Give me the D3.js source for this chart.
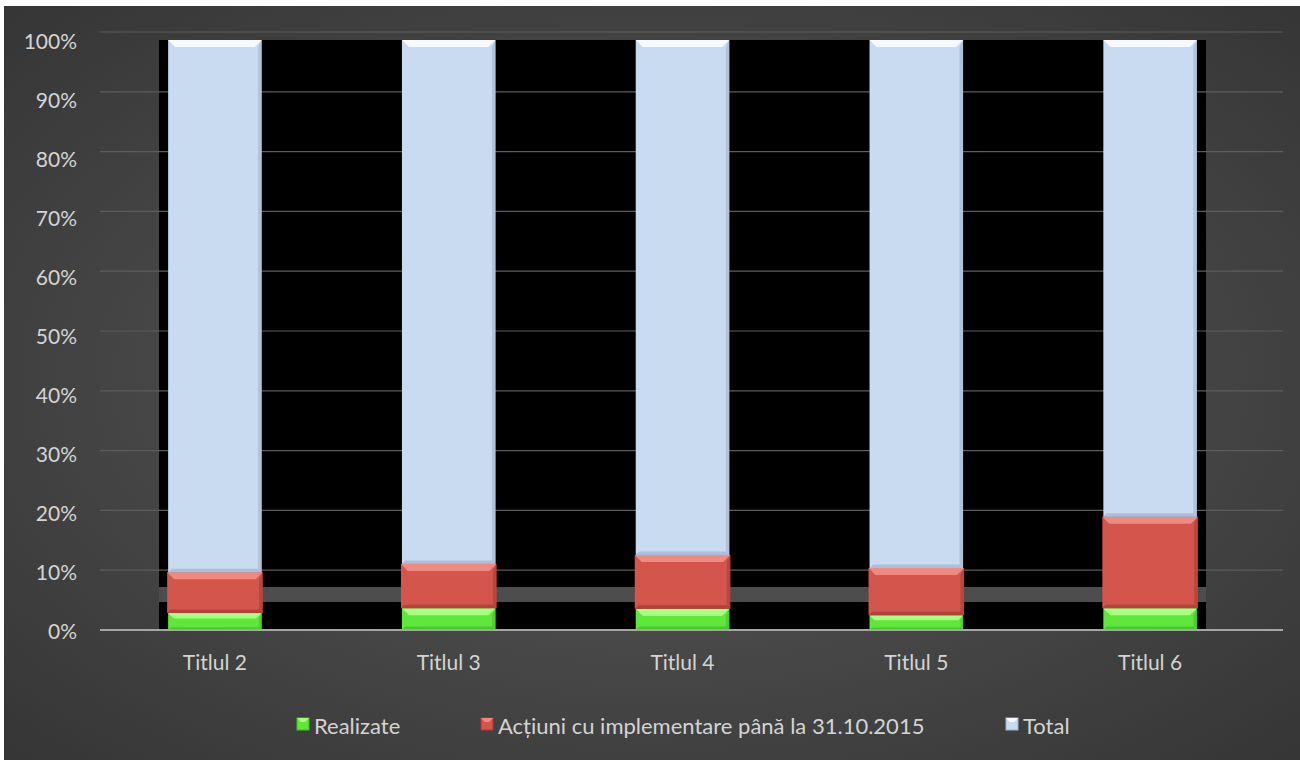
<!DOCTYPE html>
<html lang="en">
<head>
    <meta charset="UTF-8">
    <title>Titluri - stadiu</title>
    <script src="https://d3js.org/d3.v7.min.js"></script>
    <style>
        body { margin: 0; background: #fff; }
        text { font-family: Lato, "Open Sans", sans-serif; fill: #d4d4d4; }
    </style>
</head>
<body>
<script>
    var categories = ["Titlul 2", "Titlul 3", "Titlul 4", "Titlul 5", "Titlul 6"];
    // shares of each stacked bar, in percent
    var realizate = [2.9, 3.7, 3.6, 2.5, 3.7];
    var actiuni = [6.9, 7.5, 9.1, 8.0, 15.5];
    var total = [90.2, 88.8, 87.3, 89.5, 80.8];
    var seriesNames = ["Realizate", "Acțiuni cu implementare până la 31.10.2015", "Total"];
    var tickValues = [0, 10, 20, 30, 40, 50, 60, 70, 80, 90, 100];

    var width = 1300, height = 760;

    var svg = d3.select("body").append("svg")
        .attr("width", width)
        .attr("height", height);

    var defs = svg.append("defs");
    var bg = defs.append("radialGradient").attr("id", "bg")
        .attr("cx", "50%").attr("cy", "50%").attr("r", "75%");
    bg.append("stop").attr("offset", "0%").attr("stop-color", "#5a5a5a");
    bg.append("stop").attr("offset", "100%").attr("stop-color", "#333333");

    // background (white strip top and left, like the original picture)
    svg.append("rect").attr("x", 4).attr("y", 6)
        .attr("width", width - 4).attr("height", height - 6)
        .attr("fill", "url(#bg)");

    var yGrid = d3.scaleLinear().domain([0, 100]).range([630, 32]);
    var yBar = d3.scaleLinear().domain([0, 100]).range([630, 40]);
    var x = d3.scaleBand().domain(categories).range([98, 1267])
        .paddingInner(0.6).paddingOuter(0.3);

    // black plot panel with a gray gap near the bottom
    svg.append("rect").attr("x", 159).attr("y", 40).attr("width", 1047).attr("height", 547).attr("fill", "#000");
    svg.append("rect").attr("x", 159).attr("y", 602).attr("width", 1047).attr("height", 28).attr("fill", "#000");
    svg.append("rect").attr("x", 159).attr("y", 587).attr("width", 1047).attr("height", 15).attr("fill", "#4d4d4d");

    // gridlines
    svg.append("g").selectAll("line")
        .data(tickValues.slice(1))
        .enter().append("line")
        .attr("x1", 100).attr("x2", 1283)
        .attr("y1", function(d) { return yGrid(d); })
        .attr("y2", function(d) { return yGrid(d); })
        .attr("stroke", "#5c5c5c")
        .attr("stroke-width", 1.2);

    // y tick labels (they follow the bar scale, not the gridlines)
    svg.append("g").selectAll("text")
        .data(tickValues)
        .enter().append("text")
        .attr("x", 77)
        .attr("y", function(d) { return yBar(d) + 2; })
        .attr("dy", "0.35em")
        .attr("text-anchor", "end")
        .style("font-size", "21px")
        .text(function(d) { return d + "%"; });

    var colors = [
        { base: "#5fe83b", light: "#a6ff82", dark: "#3fbf22" },
        { base: "#d3554b", light: "#f08a80", dark: "#a83b33" },
        { base: "#c9dbf1", light: "#f6faff", dark: "#9fb3cc" }
    ];

    var rows = categories.map(function(c, i) {
        return { cat: c, s0: realizate[i], s1: actiuni[i], s2: total[i] };
    });
    var stack = d3.stack().keys(["s0", "s1", "s2"]);
    var layers = stack(rows);

    var bevel = 7;
    layers.forEach(function(layer, li) {
        var col = colors[li];
        var g = svg.append("g");
        layer.forEach(function(d) {
            var x0 = x(d.data.cat), bw = x.bandwidth();
            if (li === 1) { x0 -= 1; bw += 2; }
            var y0 = yBar(d[1]), y1 = yBar(d[0]);
            var h = y1 - y0;
            var b = Math.min(bevel, h / 3);
            g.append("rect").attr("x", x0).attr("y", y0).attr("width", bw).attr("height", h).attr("fill", col.base);
            // top bevel
            g.append("polygon")
                .attr("points", [[x0, y0], [x0 + bw, y0], [x0 + bw - b, y0 + b], [x0 + b, y0 + b]].join(" "))
                .attr("fill", col.light);
            // right bevel
            g.append("polygon")
                .attr("points", [[x0 + bw, y0], [x0 + bw, y1], [x0 + bw - b / 2, y1 - b / 2], [x0 + bw - b / 2, y0 + b]].join(" "))
                .attr("fill", col.dark).attr("opacity", 0.6);
            // bottom bevel
            g.append("polygon")
                .attr("points", [[x0, y1], [x0 + bw, y1], [x0 + bw - b / 2, y1 - b / 2], [x0 + b / 2, y1 - b / 2]].join(" "))
                .attr("fill", col.dark).attr("opacity", 0.7);
        });
    });

    // zero axis line
    svg.append("line")
        .attr("x1", 100).attr("x2", 1283)
        .attr("y1", yGrid(0)).attr("y2", yGrid(0))
        .attr("stroke", "#a6a6a6").attr("stroke-width", 2);

    // category labels
    svg.append("g").selectAll("text")
        .data(categories)
        .enter().append("text")
        .attr("x", function(d) { return x(d) + x.bandwidth() / 2; })
        .attr("y", 670)
        .attr("text-anchor", "middle")
        .style("font-size", "21px")
        .text(function(d) { return d; });

    // legend
    var legendX = [297, 481, 1006];
    var legend = svg.append("g").selectAll("g")
        .data(seriesNames)
        .enter().append("g")
        .attr("transform", function(d, i) { return "translate(" + legendX[i] + ",726)"; });
    legend.append("rect")
        .attr("x", 0).attr("y", -8).attr("width", 12).attr("height", 12)
        .attr("fill", function(d, i) { return colors[i].base; })
        .attr("stroke", function(d, i) { return colors[i].dark; })
        .attr("stroke-width", 1);
    legend.append("polygon")
        .attr("points", "0,-8 12,-8 8,-4 4,-4")
        .attr("fill", function(d, i) { return colors[i].light; });
    legend.append("text")
        .attr("x", 17)
        .attr("y", 0)
        .attr("dy", "0.35em")
        .style("font-size", "22px")
        .text(function(d) { return d; });
</script>
</body>
</html>
